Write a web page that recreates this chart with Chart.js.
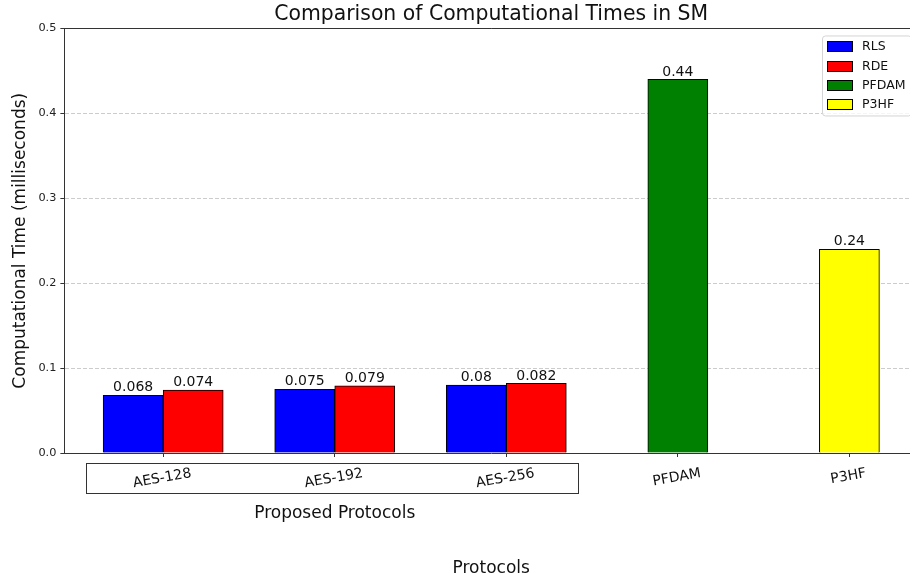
<!DOCTYPE html>
<html>
<head>
<meta charset="utf-8">
<script src="https://cdn.jsdelivr.net/npm/chart.js@4.4.0/dist/chart.umd.min.js"></script>
<style>
  html, body { margin: 0; padding: 0; background: #fff; overflow: hidden; }
  #wrap { width: 925px; height: 581px; }
</style>
</head>
<body>
<div id="wrap"><canvas id="chart-times" width="925" height="581"></canvas></div>
<script>
'use strict';
var protocols = ['AES-128', 'AES-192', 'AES-256', 'PFDAM', 'P3HF'];
var rlsTimes = [0.068, 0.075, 0.08];   // AES-128, AES-192, AES-256
var rdeTimes = [0.074, 0.079, 0.082];  // same three
var pfdamTimes = [0.44];               // PFDAM slot
var p3hfTimes = [0.24];                // P3HF slot
var yTicks = [0, 0.1, 0.2, 0.3, 0.4, 0.5];
var proposedCount = 3; // first three slots are the proposed AES variants

var barHalf = 0.175;          // half a bar, in category units
var xMin = -0.576, xMax = 4.40; // x limits (right side is cropped)
var FONT = '"DejaVu Sans", sans-serif';

Chart.defaults.font.family = FONT;
Chart.defaults.color = '#222';

var rlsPoints = rlsTimes.map(function(v, i) { return {x: i - barHalf, y: v}; });
var rdePoints = rdeTimes.map(function(v, i) { return {x: i + barHalf, y: v}; });
var pfdamPoints = pfdamTimes.map(function(v, i) { return {x: proposedCount + i, y: v}; });
var p3hfPoints = p3hfTimes.map(function(v, i) { return {x: proposedCount + 1 + i, y: v}; });

// spines, bar labels, rotated tick labels, the "proposed" box and the legend
var extrasPlugin = {
  id: 'extras',
  afterDraw: function(chart) {
    var ctx = chart.ctx, area = chart.chartArea;
    var xs = chart.scales.x;
    ctx.save();

    ctx.strokeStyle = '#333';
    ctx.lineWidth = 1;
    ctx.beginPath();
    ctx.moveTo(area.left, Math.round(area.top) + 0.5);
    ctx.lineTo(area.right, Math.round(area.top) + 0.5);
    ctx.moveTo(Math.round(area.right) - 0.5, area.top);
    ctx.lineTo(Math.round(area.right) - 0.5, area.bottom);
    ctx.stroke();

    // numbers on top of the bars
    ctx.fillStyle = '#111';
    ctx.font = '14px ' + FONT;
    ctx.textAlign = 'center';
    ctx.textBaseline = 'bottom';
    chart.data.datasets.forEach(function(ds, di) {
      chart.getDatasetMeta(di).data.forEach(function(bar, j) {
        ctx.fillText(String(ds.data[j].y), bar.x, bar.y - 0.5);
      });
    });

    // tick labels, tilted 10 degrees
    ctx.textBaseline = 'middle';
    protocols.forEach(function(name, i) {
      var px = xs.getPixelForValue(i);
      var w = ctx.measureText(name).width;
      var h = 15;
      var rad = 10 * Math.PI / 180;
      var cy = area.bottom + 13 + (w * Math.sin(rad) + h * Math.cos(rad)) / 2;
      ctx.save();
      ctx.translate(px - 1, cy);
      ctx.rotate(-rad);
      ctx.fillText(name, 0, 0);
      ctx.restore();
    });

    // box round the proposed protocols
    var bx1 = Math.round(xs.getPixelForValue(-0.45)) + 0.5;
    var bx2 = Math.round(xs.getPixelForValue(2.42)) + 0.5;
    var by1 = Math.round(area.bottom + 10) + 0.5;
    var by2 = Math.round(area.bottom + 40) + 0.5;
    ctx.strokeStyle = '#333';
    ctx.strokeRect(bx1, by1, bx2 - bx1, by2 - by1);
    ctx.font = '17px ' + FONT;
    ctx.fillText('Proposed Protocols', xs.getPixelForValue((proposedCount - 1) / 2), area.bottom + 61);

    // legend, upper right inside the axes
    var lx = area.right - 96, ly = area.top + 7, lw = 89, lh = 80;
    ctx.beginPath();
    ctx.roundRect(lx + 0.5, ly + 0.5, lw, lh, 3);
    ctx.fillStyle = 'rgba(255,255,255,0.8)';
    ctx.fill();
    ctx.strokeStyle = '#d4d4d4';
    ctx.stroke();
    ctx.font = '12.5px ' + FONT;
    ctx.textAlign = 'left';
    chart.data.datasets.forEach(function(ds, k) {
      var cy = ly + 11 + k * 19.3;
      ctx.fillStyle = ds.backgroundColor;
      ctx.fillRect(lx + 5.5, Math.round(cy - 5) + 0.5, 25, 10);
      ctx.strokeStyle = '#000';
      ctx.strokeRect(lx + 5.5, Math.round(cy - 5) + 0.5, 25, 10);
      ctx.fillStyle = '#111';
      ctx.fillText(ds.label, lx + 40, cy + 0.5);
    });

    ctx.restore();
  }
};

var timesctx = document.getElementById('chart-times').getContext('2d');
var timesChart = new Chart(timesctx, {
  type: 'bar',
  data: {
    datasets: [
      {label: 'RLS', data: rlsPoints, backgroundColor: '#0000ff'},
      {label: 'RDE', data: rdePoints, backgroundColor: '#ff0000'},
      {label: 'PFDAM', data: pfdamPoints, backgroundColor: '#008000'},
      {label: 'P3HF', data: p3hfPoints, backgroundColor: '#ffff00'}
    ]
  },
  options: {
    responsive: false,
    animation: false,
    layout: {padding: {left: 0, right: 7, top: 0, bottom: 0}},
    datasets: {
      bar: {
        grouped: false,
        categoryPercentage: 1,
        barPercentage: 1,
        borderColor: '#000',
        borderWidth: 1
      }
    },
    plugins: {
      legend: {display: false},
      tooltip: {enabled: false},
      title: {
        display: true,
        fullSize: false,
        text: 'Comparison of Computational Times in SM',
        color: '#111',
        font: {size: 20.4, weight: 'normal'},
        padding: {top: 2, bottom: 2}
      }
    },
    scales: {
      x: {
        type: 'linear',
        min: xMin,
        max: xMax,
        offset: false,
        afterBuildTicks: function(scale) {
          scale.ticks = protocols.map(function(p, i) { return {value: i}; });
        },
        ticks: {display: false},
        grid: {display: true, offset: false, drawOnChartArea: false, drawTicks: true, tickLength: 4, tickColor: '#333'},
        border: {display: true, color: '#333', width: 1},
        title: {
          display: true,
          text: 'Protocols',
          color: '#111',
          font: {size: 17},
          padding: {top: 101.6, bottom: 2}
        }
      },
      y: {
        min: 0,
        max: 0.5,
        afterBuildTicks: function(scale) {
          scale.ticks = yTicks.map(function(v) { return {value: v}; });
        },
        ticks: {
          color: '#222',
          font: {size: 11.3},
          padding: 4,
          callback: function(v) { return v.toFixed(1); }
        },
        grid: {
          color: function(c) {
            var v = c.tick ? c.tick.value : 0;
            return (v > 0 && v < 0.5) ? 'rgba(0,0,0,0.2)' : 'rgba(0,0,0,0)';
          },
          tickColor: '#333',
          tickLength: 4,
          tickBorderDash: []
        },
        border: {display: true, color: '#333', width: 1, dash: [4, 2]},
        title: {
          display: true,
          text: 'Computational Time (milliseconds)',
          color: '#111',
          font: {size: 17},
          padding: {top: 10, bottom: 4}
        }
      }
    }
  },
  plugins: [extrasPlugin]
});
</script>
</body>
</html>
